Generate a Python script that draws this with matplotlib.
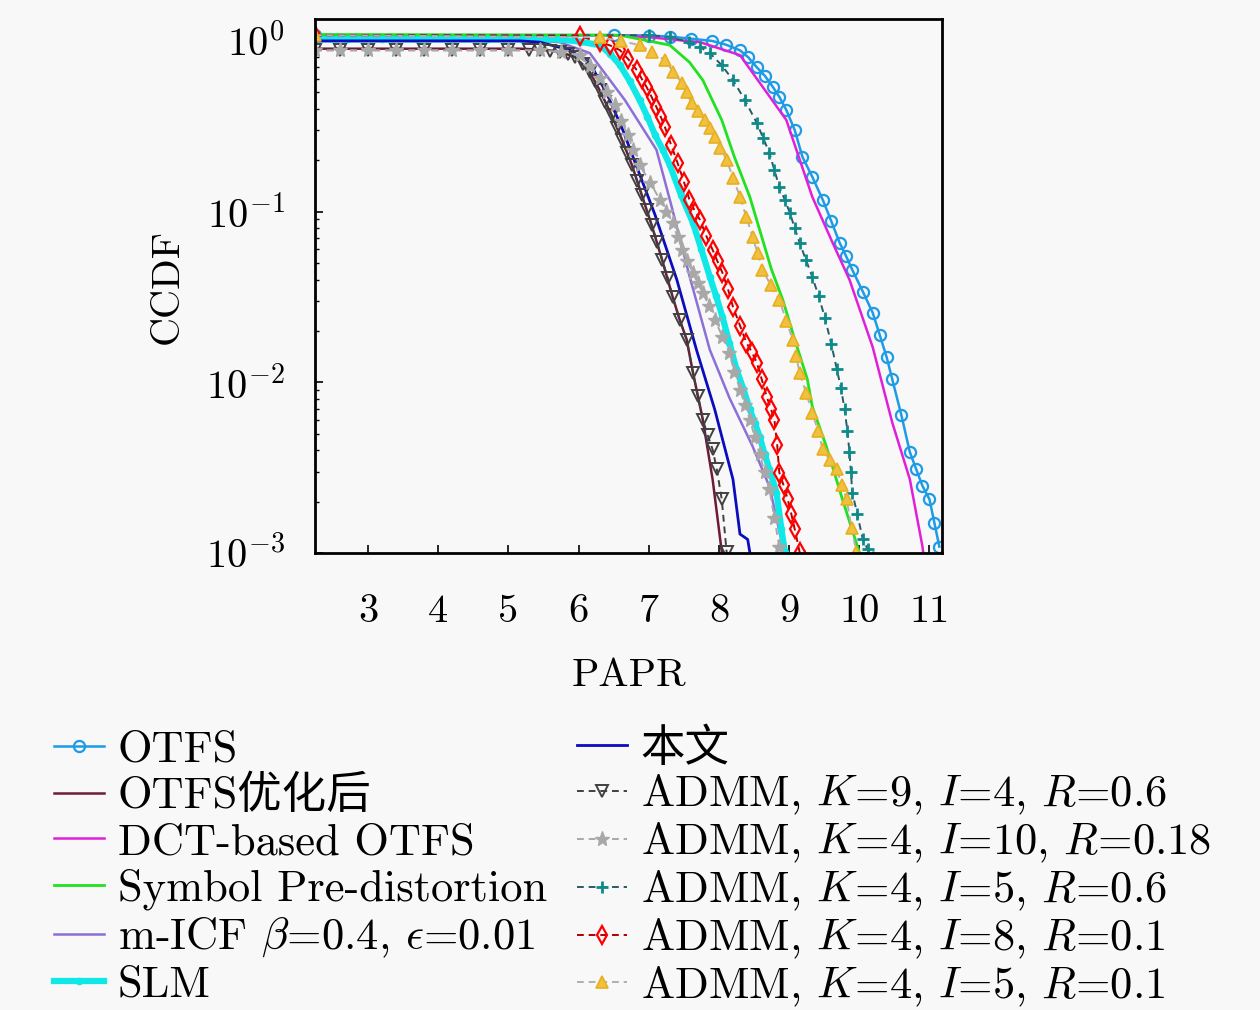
import matplotlib
matplotlib.use("Agg")
import matplotlib.pyplot as plt
from matplotlib.ticker import LogLocator, NullFormatter

plt.rcParams['font.family'] = ['cmr10', 'Noto Sans CJK SC']
plt.rcParams['mathtext.fontset'] = 'cm'
plt.rcParams['axes.formatter.use_mathtext'] = True
plt.rcParams['axes.unicode_minus'] = False

# ---------------- data (PAPR in dB, CCDF) ----------------
otfs_x = [2.245, 6.5, 7.0, 7.3, 7.6, 7.9, 8.10, 8.30, 8.42, 8.54, 8.66, 8.77, 8.86, 8.96, 9.08, 9.19, 9.33, 9.48, 9.60, 9.72, 9.81, 9.90, 10.05, 10.19, 10.29, 10.39, 10.47, 10.60, 10.72, 10.81, 10.90, 11.00, 11.07, 11.14]
otfs_y = [1.08, 1.08, 1.075, 1.06, 1.03, 1.0, 0.95, 0.88, 0.80, 0.70, 0.62, 0.536, 0.47, 0.394, 0.30, 0.209, 0.16, 0.117, 0.088, 0.0656, 0.055, 0.0456, 0.034, 0.0256, 0.019, 0.0140, 0.0104, 0.0064, 0.0039, 0.0031, 0.00247, 0.00206, 0.0015, 0.00109]

opt_x = [2.245, 5.16, 5.45, 5.73, 5.95, 6.16, 6.30, 6.47, 6.62, 6.76, 6.90, 7.04, 7.19, 7.34, 7.44, 7.54, 7.63, 7.77, 7.91, 8.04, 8.06]
opt_y = [0.90, 0.90, 0.89, 0.865, 0.803, 0.656, 0.515, 0.368, 0.263, 0.1875, 0.1252, 0.0836, 0.0522, 0.0317, 0.0233, 0.0178, 0.0114, 0.00605, 0.0027, 0.00102, 0.0009]

dct_x = [2.245, 6.5, 7.01, 7.73, 8.30, 8.96, 9.33, 9.62, 9.86, 10.19, 10.47, 10.72, 10.90, 10.94]
dct_y = [1.08, 1.08, 1.05, 0.983, 0.825, 0.344, 0.122, 0.0656, 0.0399, 0.0161, 0.0058, 0.0027, 0.00109, 0.0008]

spd_x = [2.245, 6.59, 7.30, 7.58, 7.77, 8.04, 8.22, 8.44, 8.61, 8.75, 8.91, 9.08, 9.26, 9.33, 9.53, 9.76, 10.00, 10.06]
spd_y = [1.09, 1.08, 0.944, 0.750, 0.589, 0.344, 0.209, 0.1219, 0.0711, 0.0456, 0.0304, 0.0178, 0.0104, 0.00721, 0.00421, 0.00206, 0.00101, 0.0009]

micf_x = [2.245, 5.45, 5.73, 6.16, 6.66, 7.11, 7.32, 7.58, 7.87, 8.15, 8.48, 8.72, 8.91, 8.95]
micf_y = [1.0, 1.0, 0.983, 0.848, 0.450, 0.230, 0.1094, 0.0420, 0.0155, 0.0081, 0.00421, 0.00245, 0.00109, 0.0009]

slm_x = [2.245, 2.7, 3.2, 3.7, 4.2, 4.7, 5.2, 5.73, 6.02, 6.30, 6.45, 6.59, 6.73, 6.87, 6.98, 7.09, 7.20, 7.30, 7.46, 7.63, 7.75, 7.87, 7.96, 8.05, 8.15, 8.25, 8.35, 8.44, 8.51, 8.58, 8.65, 8.72, 8.82, 8.89, 8.94, 8.98]
slm_y = [1.02, 1.02, 1.02, 1.02, 1.02, 1.02, 1.02, 1.02, 0.99, 0.944, 0.84, 0.721, 0.58, 0.450, 0.36, 0.281, 0.23, 0.1875, 0.125, 0.0859, 0.060, 0.0415, 0.032, 0.0242, 0.017, 0.0119, 0.0091, 0.00693, 0.0058, 0.00481, 0.0038, 0.00309, 0.00226, 0.00138, 0.00101, 0.0009]

ours_x = [2.245, 5.16, 5.45, 5.88, 6.16, 6.40, 6.63, 6.83, 7.09, 7.40, 7.68, 7.94, 8.20, 8.30, 8.41, 8.44, 8.45]
ours_y = [1.0, 1.0, 0.983, 0.882, 0.741, 0.494, 0.301, 0.1825, 0.0956, 0.0399, 0.0155, 0.00693, 0.00270, 0.00129, 0.00120, 0.00101, 0.0009]

k9_x = [2.245, 2.6, 3.0, 3.4, 3.8, 4.2, 4.6, 5.0, 5.3, 5.45, 5.60, 5.73, 5.85, 5.95, 6.06, 6.16, 6.23, 6.30, 6.38, 6.47, 6.55, 6.62, 6.69, 6.76, 6.83, 6.90, 6.97, 7.04, 7.12, 7.19, 7.27, 7.34, 7.44, 7.54, 7.63, 7.70, 7.77, 7.84, 7.91, 7.97, 8.04, 8.11, 8.18]
k9_y = [0.882, 0.882, 0.882, 0.882, 0.882, 0.882, 0.882, 0.882, 0.882, 0.882, 0.875, 0.865, 0.84, 0.803, 0.73, 0.656, 0.58, 0.515, 0.44, 0.368, 0.31, 0.263, 0.22, 0.1875, 0.152, 0.1252, 0.102, 0.0836, 0.066, 0.0522, 0.041, 0.0317, 0.0233, 0.0178, 0.0114, 0.0083, 0.00605, 0.0049, 0.00404, 0.00309, 0.00206, 0.00101, 0.0009]

k4i10_x = [2.245, 2.6, 3.0, 3.4, 3.8, 4.2, 4.6, 5.0, 5.45, 5.75, 6.02, 6.16, 6.30, 6.41, 6.52, 6.61, 6.70, 6.78, 6.87, 7.02, 7.16, 7.25, 7.34, 7.41, 7.48, 7.55, 7.63, 7.70, 7.77, 7.86, 7.94, 8.05, 8.15, 8.22, 8.30, 8.37, 8.44, 8.51, 8.58, 8.65, 8.72, 8.79, 8.86, 8.92]
k4i10_y = [0.882, 0.882, 0.882, 0.882, 0.882, 0.882, 0.882, 0.882, 0.882, 0.86, 0.825, 0.71, 0.605, 0.50, 0.421, 0.34, 0.281, 0.23, 0.1875, 0.148, 0.1171, 0.10, 0.0859, 0.071, 0.0597, 0.051, 0.0438, 0.038, 0.0334, 0.028, 0.0233, 0.0185, 0.0149, 0.0115, 0.00907, 0.0074, 0.00605, 0.0048, 0.00378, 0.003, 0.00236, 0.0016, 0.00109, 0.0009]

k4i5r6_x = [2.245, 7.01, 7.30, 7.58, 7.73, 7.87, 8.04, 8.20, 8.37, 8.54, 8.63, 8.72, 8.79, 8.86, 8.94, 9.01, 9.08, 9.15, 9.24, 9.33, 9.42, 9.51, 9.60, 9.68, 9.74, 9.79, 9.83, 9.86, 9.88, 9.90, 9.97, 10.05, 10.12, 10.20]
k4i5r6_y = [1.08, 1.08, 1.05, 0.983, 0.92, 0.848, 0.72, 0.589, 0.45, 0.330, 0.27, 0.220, 0.175, 0.1395, 0.117, 0.0983, 0.08, 0.0656, 0.052, 0.0415, 0.032, 0.0239, 0.0168, 0.0119, 0.0092, 0.00693, 0.0052, 0.00388, 0.0030, 0.00226, 0.0017, 0.0012, 0.00105, 0.00095]

k4i8_x = [2.245, 6.02, 6.30, 6.45, 6.59, 6.71, 6.83, 6.90, 6.97, 7.04, 7.11, 7.17, 7.23, 7.32, 7.41, 7.50, 7.58, 7.66, 7.73, 7.82, 7.91, 7.98, 8.05, 8.13, 8.20, 8.30, 8.39, 8.47, 8.54, 8.61, 8.68, 8.74, 8.79, 8.83, 8.86, 8.92, 8.98, 9.03, 9.08, 9.15, 9.23]
k4i8_y = [1.08, 1.065, 0.983, 0.94, 0.882, 0.78, 0.674, 0.60, 0.536, 0.47, 0.409, 0.36, 0.313, 0.245, 0.193, 0.15, 0.1171, 0.10, 0.0894, 0.072, 0.0597, 0.051, 0.0438, 0.035, 0.0277, 0.0215, 0.0171, 0.015, 0.0130, 0.0104, 0.00825, 0.007, 0.00605, 0.0043, 0.00296, 0.0025, 0.00206, 0.0017, 0.00138, 0.00101, 0.0009]

k4i5r1_x = [2.245, 6.30, 6.60, 6.87, 7.05, 7.23, 7.35, 7.47, 7.54, 7.61, 7.70, 7.80, 7.87, 7.94, 8.02, 8.11, 8.20, 8.30, 8.39, 8.48, 8.55, 8.62, 8.74, 8.86, 8.96, 9.05, 9.10, 9.15, 9.24, 9.33, 9.41, 9.48, 9.58, 9.68, 9.75, 9.82, 9.89, 9.96, 10.07]
k4i5r1_y = [1.08, 1.05, 1.0, 0.944, 0.86, 0.771, 0.66, 0.566, 0.50, 0.432, 0.39, 0.344, 0.31, 0.273, 0.235, 0.201, 0.158, 0.1219, 0.093, 0.0711, 0.057, 0.0456, 0.037, 0.0304, 0.023, 0.0178, 0.0142, 0.0114, 0.0087, 0.00665, 0.0052, 0.00404, 0.0035, 0.00309, 0.0025, 0.00206, 0.0014, 0.00101, 0.0009]

labels = ["OTFS", "OTFS优化后", "DCT-based OTFS", "Symbol Pre-distortion",
          r"m-ICF $\beta$=0.4, $\epsilon$=0.01", "SLM", "本文",
          r"ADMM, $K$=9, $I$=4, $R$=0.6", r"ADMM, $K$=4, $I$=10, $R$=0.18",
          r"ADMM, $K$=4, $I$=5, $R$=0.6", r"ADMM, $K$=4, $I$=8, $R$=0.1",
          r"ADMM, $K$=4, $I$=5, $R$=0.1"]
x_ticks = [3, 4, 5, 6, 7, 8, 9, 10, 11]

# ---------------- figure ----------------
bg = '#f8f8f8'
fig = plt.figure(figsize=(12.6, 10.1), dpi=100, facecolor=bg)
ax = fig.add_axes([0.25, 0.4525, 0.498, 0.5285], facecolor=bg)

dash = (0, (3.5, 2.5))
h = []
h += ax.plot(otfs_x, otfs_y, color='#1e9be6', lw=1.8, marker='o', ms=8, mfc='none', mew=1.6)
h += ax.plot(opt_x, opt_y, color='#6e1a3a', lw=1.8)
h += ax.plot(dct_x, dct_y, color='#e020d8', lw=1.8)
h += ax.plot(spd_x, spd_y, color='#22e022', lw=2.0)
h += ax.plot(micf_x, micf_y, color='#8c6fd8', lw=1.8)
h += ax.plot(slm_x, slm_y, color='#10e8e8', lw=4.5, marker='.', ms=9)
h += ax.plot(ours_x, ours_y, color='#0c0cbe', lw=2.0)
h += ax.plot(k9_x, k9_y, color='#404040', lw=1.4, ls=dash, marker='v', ms=8, mfc='none', mew=1.4)
h += ax.plot(k4i10_x, k4i10_y, color='#a8a8a8', lw=1.4, ls=dash, marker='*', ms=11)
h += ax.plot(k4i5r6_x, k4i5r6_y, color='#2a5a6a', lw=1.4, ls=dash, marker='+', ms=9, mec='#0f8a8a', mew=2)
h += ax.plot(k4i8_x, k4i8_y, color='#b00000', lw=1.4, ls=dash, marker='d', ms=9, mec='#ff0000', mfc='none', mew=1.6)
h += ax.plot(k4i5r1_x, k4i5r1_y, color='#b0b0b0', lw=1.4, ls=dash, marker='^', ms=9, mec='#e8b020', mfc='#f0c040', mew=1.2)

ax.set_yscale('log')
ax.set_xlim(2.245, 11.185)
ax.set_ylim(1e-3, 1.34)
ax.set_xticks(x_ticks)
ax.set_xticklabels([str(t) for t in x_ticks])
ax.yaxis.set_major_locator(LogLocator(base=10, numticks=10))
ax.yaxis.set_minor_locator(LogLocator(base=10, subs=range(2, 10), numticks=20))
ax.yaxis.set_minor_formatter(NullFormatter())
ax.tick_params(axis='both', which='major', direction='in', length=6, width=1.2,
               labelsize=29, top=False, right=False)
ax.tick_params(axis='x', pad=30)
ax.tick_params(axis='y', pad=22)
ax.tick_params(axis='y', which='minor', direction='in', length=3, width=1)
for s in ax.spines.values():
    s.set_linewidth(2)

ax.set_xlabel('PAPR', fontsize=29, labelpad=20)
ax.set_ylabel('CCDF', fontsize=29, labelpad=14)

common = dict(loc='upper left', frameon=False, fontsize=32, handlelength=1.13,
              handletextpad=0.3, borderpad=0, borderaxespad=0)
fig.legend(h[:6], labels[:6], bbox_to_anchor=(0.043, 0.277), labelspacing=0.125, **common)
fig.legend(h[6:], labels[6:], bbox_to_anchor=(0.458, 0.279), labelspacing=0.08, **common)

fig.savefig('out.png', dpi=100, facecolor=bg)
